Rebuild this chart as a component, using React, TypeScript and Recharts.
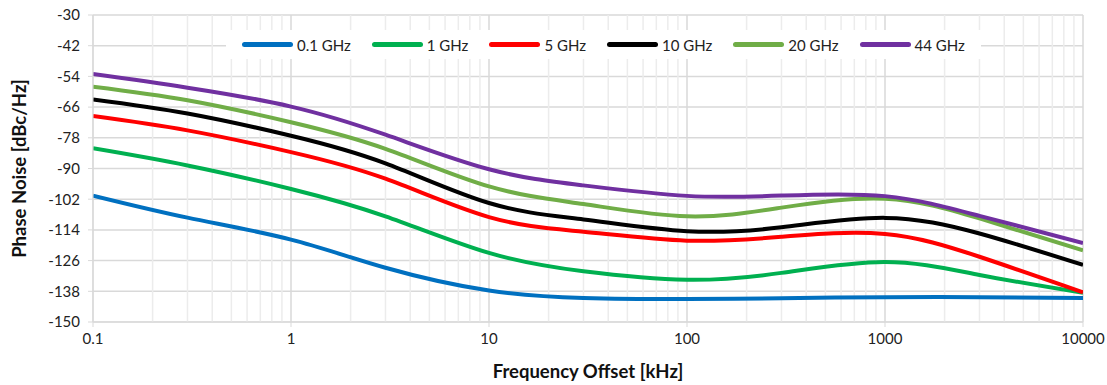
import {
  LineChart,
  Line,
  XAxis,
  YAxis,
  CartesianGrid,
  ReferenceLine,
} from "recharts";

const freqKHz = [0.1, 0.3, 1, 3, 10, 30, 100, 300, 1000, 3000, 10000];

const pn01 = [-100.6, -109.2, -117.8, -128.8, -137.7, -140.6, -141, -140.7, -140.3, -140.3, -140.6];
const pn1 = [-82.1, -88.8, -98, -108.7, -123, -130.2, -133.5, -130.8, -126.5, -131.6, -138.6];
const pn5 = [-69.5, -75.1, -83.6, -94, -109, -114.7, -118.2, -116.7, -115.6, -124.5, -138.4];
const pn10 = [-63, -68.5, -77.2, -88, -103.5, -109.9, -114.5, -113, -109.3, -115.4, -127.7];
const pn20 = [-58, -63.3, -71.9, -82.3, -97, -103.9, -108.7, -105.3, -101.8, -109.5, -122];
const pn44 = [-53.1, -58.4, -65.8, -76.8, -90.3, -96.6, -100.7, -100.6, -100.8, -108.5, -119.1];

const xTicks = [0.1, 1, 10, 100, 1000, 10000];
const yTicks = [-150, -138, -126, -114, -102, -90, -78, -66, -54, -42, -30];
const minorSteps = [2, 3, 4, 5, 6, 7, 8, 9];

const series = [
  { key: "g01", name: "0.1 GHz", color: "#0070C0", values: pn01 },
  { key: "g1", name: "1 GHz", color: "#00B050", values: pn1 },
  { key: "g5", name: "5 GHz", color: "#FF0000", values: pn5 },
  { key: "g10", name: "10 GHz", color: "#000000", values: pn10 },
  { key: "g20", name: "20 GHz", color: "#70AD47", values: pn20 },
  { key: "g44", name: "44 GHz", color: "#7030A0", values: pn44 },
];

const data = freqKHz.map((f, i) => {
  const row: Record<string, number> = { f };
  series.forEach((s) => (row[s.key] = s.values[i]));
  return row;
});

const minorLines = xTicks
  .slice(0, -1)
  .flatMap((d) => minorSteps.map((m) => +(d * m).toPrecision(3)));

const FONT = "Lato, 'Open Sans', sans-serif";

function LegendBox() {
  return (
    <div
      style={{
        position: "absolute",
        left: 226,
        top: 30,
        height: 29,
        display: "flex",
        alignItems: "center",
        background: "#fff",
        padding: "0 16px 0 16px",
        fontFamily: FONT,
        fontSize: 15,
        color: "#222",
      }}
    >
      {series.map((s, i) => (
        <div
          key={s.key}
          style={{ display: "flex", alignItems: "center", marginLeft: i === 0 ? 0 : 21 }}
        >
          <div style={{ width: 51, height: 5, borderRadius: 3, background: s.color, marginRight: 4 }} />
          <span>{s.name}</span>
        </div>
      ))}
    </div>
  );
}

export default function App() {
  return (
    <div style={{ position: "absolute", left: 0, top: 0, width: 1107, height: 385, background: "#fff" }}>
      <LineChart
        width={1107}
        height={385}
        data={data}
        margin={{ top: 15, right: 24, bottom: 0, left: 0 }}
      >
        <CartesianGrid vertical={false} stroke="#d9d9d9" strokeWidth={1.5} />
        {minorLines.map((v) => (
          <ReferenceLine key={"m" + v} x={v} stroke="#ececec" strokeWidth={1.5} />
        ))}
        {xTicks.map((v) => (
          <ReferenceLine key={"M" + v} x={v} stroke="#d9d9d9" strokeWidth={1.5} />
        ))}
        <XAxis
          dataKey="f"
          type="number"
          scale="log"
          domain={[0.1, 10000]}
          ticks={xTicks}
          allowDataOverflow
          height={63}
          stroke="#d9d9d9"
          tickSize={5}
          tickMargin={6}
          tick={{ fill: "#222", fontSize: 15, fontFamily: FONT }}
          label={{
            value: "Frequency Offset [kHz]",
            position: "insideBottom",
            offset: 7,
            style: { fontFamily: FONT, fontWeight: 700, fontSize: 18.5, fill: "#111" },
          }}
        />
        <YAxis
          type="number"
          domain={[-150, -30]}
          ticks={yTicks}
          width={93}
          stroke="#d9d9d9"
          tickSize={5}
          tickMargin={8}
          tick={{ fill: "#222", fontSize: 15, fontFamily: FONT }}
          label={{
            value: "Phase Noise [dBc/Hz]",
            angle: -90,
            position: "insideLeft",
            offset: 19,
            style: { textAnchor: "middle", fontFamily: FONT, fontWeight: 700, fontSize: 18.5, fill: "#111" },
          }}
        />
        {series.map((s) => (
          <Line
            key={s.key}
            dataKey={s.key}
            name={s.name}
            type="natural"
            stroke={s.color}
            strokeWidth={4}
            dot={false}
            isAnimationActive={false}
          />
        ))}
      </LineChart>
      <LegendBox />
    </div>
  );
}
